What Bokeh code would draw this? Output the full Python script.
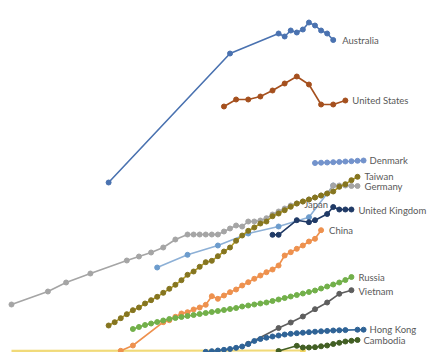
from bokeh.plotting import figure
from bokeh.models import Range1d
from bokeh.core.properties import value
from bokeh.embed import file_html
from bokeh.resources import INLINE

# ---- data (year, value) ----
bottom_years = [1955, 2003]
bottom_vals = [0.17, 0.2]

australia_years = [1971, 1991, 1999, 2000, 2001, 2002, 2003, 2004, 2005, 2006, 2007, 2008]
australia_vals = [17.0, 29.9, 31.9, 31.6, 32.2, 32.0, 32.3, 33.0, 32.7, 32.2, 31.9, 31.25]

us_years = [1990, 1992, 1994, 1996, 1998, 2000, 2002, 2004, 2006, 2008, 2010]
us_vals = [24.6, 25.3, 25.3, 25.6, 26.2, 26.9, 27.6, 26.8, 24.8, 24.8, 25.2]

denmark_years = list(range(2005, 2014))
denmark_vals = [18.95, 18.98, 19.0, 19.03, 19.06, 19.1, 19.13, 19.17, 19.2]

taiwan_years = list(range(1971, 2013))
taiwan_vals = [2.7, 3.03, 3.43, 3.83, 4.23, 4.5, 4.9, 5.23, 5.57, 5.97, 6.37, 6.77, 7.23, 7.77,
               8.1, 8.57, 9.03, 9.17, 9.63, 10.1, 10.5, 11.17, 11.7, 12.17, 12.5, 12.9, 13.1,
               13.63, 13.9, 14.23, 14.57, 14.9, 15.1, 15.3, 15.5, 15.7, 15.9, 16.1, 16.57,
               16.83, 17.23, 17.57]

germany_years = [1955, 1961, 1964, 1968, 1974, 1976, 1978, 1980, 1982] + list(range(1984, 2013))
germany_vals = [4.8, 6.1, 7.0, 7.9, 9.2, 9.6, 10.0, 10.5, 11.3,
                11.8, 11.8, 11.8, 11.8, 11.8, 11.8,
                12.1, 12.4, 12.7, 12.6, 13.1, 13.1, 13.2, 13.43, 13.8, 14.1, 14.4, 14.7,
                14.9, 15.1, 15.3, 15.5, 15.7, 15.9, 16.7, 16.7, 16.7, 16.65, 16.65]

japan_years = [1979, 1984, 1989, 1994, 1999, 2004, 2008]
japan_vals = [8.5, 9.77, 10.7, 11.9, 12.6, 13.53, 16.7]

uk_years = [1998, 1999, 2002, 2004, 2005, 2007, 2008, 2009, 2010, 2011]
uk_vals = [11.77, 11.77, 13.23, 13.03, 13.23, 13.85, 14.55, 14.3, 14.3, 14.3]

china_years = [1973, 1975] + list(range(1980, 2007))
china_vals = [0.17, 0.7, 3.03, 3.23, 3.57, 3.9, 4.03, 4.3, 4.5, 4.77, 5.63, 5.37, 5.7, 6.03,
              6.3, 6.7, 7.03, 7.37, 7.7, 8.03, 8.3, 8.7, 9.7, 10.03, 10.37, 10.7, 11.1,
              11.37, 12.23]

russia_years = list(range(1975, 2012))
russia_vals = [2.35, 2.55, 2.75, 2.9, 3.05, 3.2, 3.35, 3.45, 3.55, 3.65, 3.75, 3.85, 3.95,
               4.05, 4.15, 4.25, 4.35, 4.45, 4.6, 4.7, 4.8, 4.9, 5.0, 5.15, 5.3, 5.45, 5.6,
               5.75, 5.9, 6.05, 6.2, 6.4, 6.6, 6.8, 7.0, 7.25, 7.55]

vietnam_years = [1994, 1999, 2001, 2003, 2005, 2007, 2009, 2011]
vietnam_vals = [0.87, 2.45, 3.0, 3.6, 4.33, 5.0, 5.87, 6.23]

hongkong_years = list(range(1987, 2011)) + [2012, 2013]
hongkong_vals = [0.07, 0.13, 0.2, 0.27, 0.35, 0.47, 0.6, 0.85, 1.15, 1.35, 1.48, 1.6, 1.7,
                 1.8, 1.87, 1.93, 1.98, 2.03, 2.08, 2.12, 2.16, 2.2, 2.22, 2.24, 2.28, 2.28]

cambodia_years = [1999, 2002, 2003, 2004, 2005, 2006, 2007, 2008, 2009, 2010, 2011, 2012]
cambodia_vals = [0.15, 0.67, 0.5, 0.5, 0.53, 0.62, 0.7, 0.85, 0.97, 1.1, 1.17, 1.25]

# ---- styling ----
series = [
    # name, years, values, line colour, marker colour, label offset (x, y px)
    ("", bottom_years, bottom_vals, "#F1DA78", "#EFD35E", None),
    ("Japan", japan_years, japan_vals, "#8DB0D6", "#6C9CCD", (-29, 19)),
    ("Germany", germany_years, germany_vals, "#A5A5A5", "#A5A5A5", (7, 0)),
    ("Australia", australia_years, australia_vals, "#4A72B0", "#4A72B0", (9, 0)),
    ("United States", us_years, us_vals, "#A5501E", "#A5501E", (7, 0)),
    ("Denmark", denmark_years, denmark_vals, "#7393CC", "#7393CC", (6, 0)),
    ("China", china_years, china_vals, "#EE914E", "#EE914E", (8, 0)),
    ("Russia", russia_years, russia_vals, "#72B04A", "#72B04A", (7, 0)),
    ("Taiwan", taiwan_years, taiwan_vals, "#B39B22", "#857520", (7, 0)),
    ("United Kingdom", uk_years, uk_vals, "#203A66", "#203A66", (7, 1)),
    ("Vietnam", vietnam_years, vietnam_vals, "#5E5E5E", "#5E5E5E", (7, 1)),
    ("Hong Kong", hongkong_years, hongkong_vals, "#2F6396", "#2F6396", (6, 0)),
    ("Cambodia", cambodia_years, cambodia_vals, "#425F24", "#425F24", (6, 0)),
]

p = figure(width=429, height=352, output_backend="svg", toolbar_location=None,
           x_range=Range1d(1953.19, 2023.86), y_range=Range1d(0, 35.2),
           min_border=0, min_border_left=0, min_border_right=0,
           min_border_top=0, min_border_bottom=0)
p.axis.visible = False
p.grid.visible = False
p.outline_line_color = None
p.background_fill_color = "white"
p.border_fill_color = "white"

for name, xs, ys, lc, mc, off in series:
    if name == "":
        p.line(xs, ys, line_color=lc, line_width=2.2)
        p.scatter(xs[-1:], ys[-1:], size=5, fill_color=mc, line_color=mc)
        continue
    p.line(xs, ys, line_color=lc, line_width=1.6)
    p.scatter(xs, ys, size=5, fill_color=mc, line_color=mc)
    p.text(x=[xs[-1]], y=[ys[-1]], text=[name], x_offset=off[0], y_offset=off[1],
           text_font=value("Lato"), text_font_size="9.5px", text_color="#595959",
           text_align="left", text_baseline="middle")

open("out.html", "w").write(file_html(p, INLINE))
